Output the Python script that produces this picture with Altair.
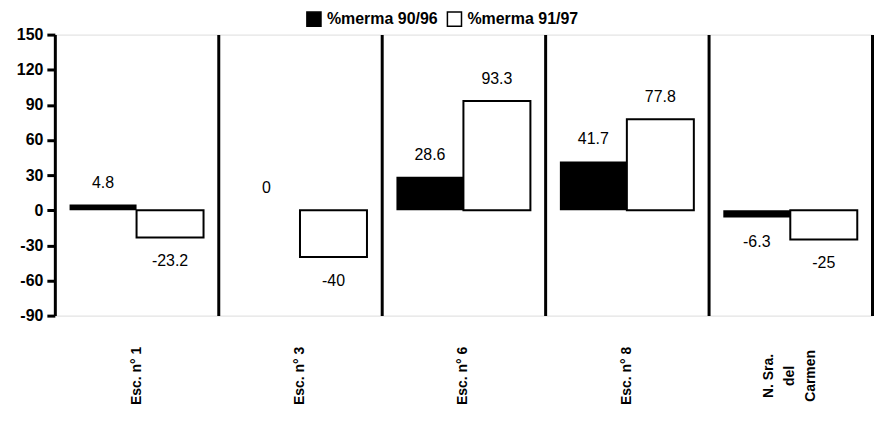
import altair as alt
import pandas as pd

categories = ["Esc. n° 1", "Esc. n° 3", "Esc. n° 6", "Esc. n° 8", "N. Sra.\ndel\nCarmen"]
series_names = ["%merma 90/96", "%merma 91/97"]
merma_90_96 = [4.8, 0, 28.6, 41.7, -6.3]
merma_91_97 = [-23.2, -40, 93.3, 77.8, -25]
y_ticks = [-90, -60, -30, 0, 30, 60, 90, 120, 150]

rows = []
for c, a, b in zip(categories, merma_90_96, merma_91_97):
    rows.append({"cat": c, "series": series_names[0], "value": a})
    rows.append({"cat": c, "series": series_names[1], "value": b})
df = pd.DataFrame(rows)

FONT = "Liberation Sans"

x_enc = alt.X(
    "cat:N", sort=categories, title=None,
    scale=alt.Scale(paddingInner=0, paddingOuter=0),
    axis=alt.Axis(
        labelAngle=-90, labelAlign="center", labelBaseline="middle",
        labelPadding=60, labelFontSize=14, labelFontWeight="bold",
        labelFont=FONT, labelColor="black", labelLineHeight=21,
        labelExpr="split(datum.label, '\\n')",
        labelOffset={"condition": {"test": "indexof(datum.label, '\\n') >= 0", "value": -21}, "value": 0},
        domain=False, ticks=False, grid=True, bandPosition=1,
        gridColor="black", gridWidth=3, gridOpacity=1,
    ),
)
xoff = alt.XOffset("series:N", sort=series_names,
                   scale=alt.Scale(paddingOuter=0.22, paddingInner=0))
y_enc = alt.Y(
    "value:Q", title=None,
    scale=alt.Scale(domain=[-90, 150], nice=False, zero=False),
    axis=alt.Axis(
        values=y_ticks, tickCount=len(y_ticks) + 1, grid=False, labelOverlap=False,
        domainColor="black", domainWidth=3, tickColor="black", tickWidth=3,
        tickSize=8, labelPadding=4, labelFontSize=16, labelFontWeight="bold",
        labelFont=FONT, labelColor="black", labelExpr="datum.value + ''",
    ),
)

base = alt.Chart(df)

bars = base.mark_bar(strokeWidth=2).encode(
    x=x_enc, xOffset=xoff, y=y_enc,
    fill=alt.Fill(
        "series:N", sort=series_names,
        scale=alt.Scale(domain=series_names, range=["black", "white"]),
        legend=alt.Legend(
            title=None, orient="none", legendX=252, legendY=-24,
            direction="horizontal", symbolType="square", symbolSize=200,
            symbolStrokeColor="black", symbolStrokeWidth=1.5,
            labelFontSize=16, labelFontWeight="bold", labelFont=FONT,
            labelColor="black", labelOffset=5, columnPadding=5, padding=0,
        ),
    ),
    stroke=alt.condition(alt.datum.series == series_names[1],
                         alt.value("black"), alt.value("transparent")),
)

pos_text = base.transform_filter("datum.value >= 0").transform_calculate(
    lbl="toString(datum.value)"
).mark_text(dy=-22, baseline="middle", fontSize=16, font=FONT, color="black").encode(
    x=alt.X("cat:N", sort=categories), xOffset=xoff, y="value:Q", text="lbl:N"
)
neg_text = base.transform_filter("datum.value < 0").transform_calculate(
    lbl="toString(datum.value)"
).mark_text(dy=24, baseline="middle", fontSize=16, font=FONT, color="black").encode(
    x=alt.X("cat:N", sort=categories), xOffset=xoff, y="value:Q", text="lbl:N"
)

chart = alt.layer(bars, pos_text, neg_text).properties(
    width=820, height=282,
    padding={"left": 8, "top": 2, "right": 2, "bottom": 0},
).configure_view(stroke=None).configure(background="white")

chart.save("out.html", embed_options={"renderer": "svg", "actions": False})
